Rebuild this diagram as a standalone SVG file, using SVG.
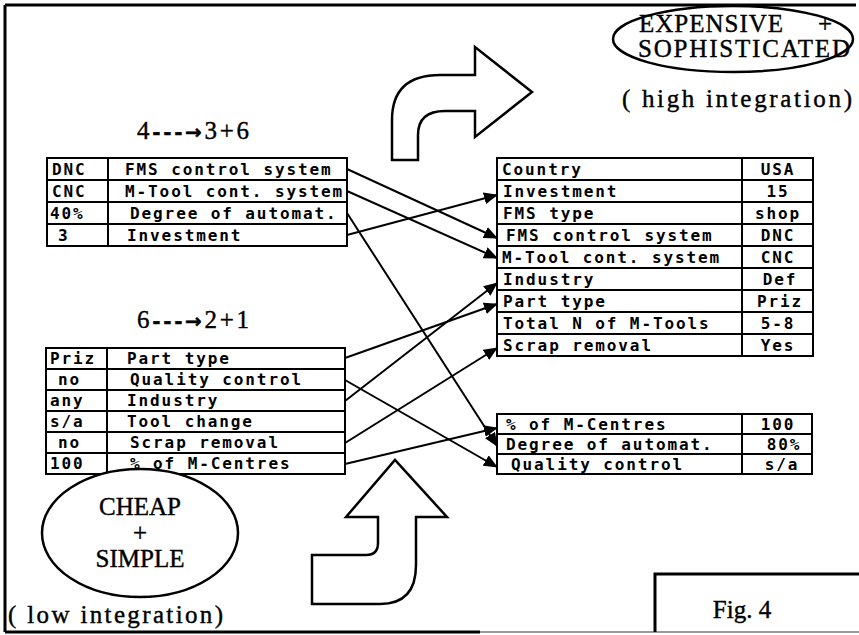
<svg xmlns="http://www.w3.org/2000/svg" width="859" height="635" viewBox="0 0 859 635">
<style>
.cell{fill:#fff;stroke:#000;stroke-width:2}
.dv{stroke:#000;stroke-width:2}
.tt{font-family:"DejaVu Sans Mono","Liberation Mono",monospace;font-weight:bold;font-size:16px;letter-spacing:1.9px;fill:#000}
.sf{font-family:"Liberation Serif",serif;font-size:25px;fill:#000;stroke:#000;stroke-width:0.4}
.shape{fill:#fff;stroke:#000;stroke-width:2.5}
.frame{stroke:#000;stroke-width:3;fill:none}
.conn{stroke:#000;stroke-width:2;fill:none;marker-end:url(#ah)}
</style>
<defs>
<marker id="ah" markerUnits="userSpaceOnUse" markerWidth="14" markerHeight="12" refX="13" refY="6" orient="auto">
<path d="M0,0 L14,6 L0,12 z" fill="#000"/>
</marker>
</defs>
<rect width="859" height="635" fill="#fff"/>
<g id="frame">
<path class="frame" d="M5,5 L856,5 M5,5 L5,632 M5,632 L480,632"/>
<path d="M480,632 L859,632" stroke="#999" stroke-width="2"/>
</g>
<g id="expensive">
<ellipse class="shape" cx="733" cy="39" rx="120" ry="33"/>
<text class="sf" x="639" y="32" letter-spacing="1">EXPENSIVE<tspan x="818">+</tspan></text>
<text class="sf" x="638" y="57" textLength="212" lengthAdjust="spacing">SOPHISTICATED</text>
<text class="sf" x="622" y="107" textLength="230" lengthAdjust="spacing">( high integration)</text>
</g>
<g id="arrow-top">
<path class="shape" d="M392,160 L392,120 Q392,75 440,75 L475,75 L475,47 L532,92 L475,137 L475,111 L445,111 Q418,111 418,135 L418,160 Z"/>
</g>
<g id="label-top">
<text class="sf" x="137" y="139" textLength="112" lengthAdjust="spacing">4<tspan font-family="DejaVu Sans" font-weight="bold" font-size="20">---→</tspan>3+6</text>
</g>
<g id="label-bottom">
<text class="sf" x="137" y="328" textLength="112" lengthAdjust="spacing">6<tspan font-family="DejaVu Sans" font-weight="bold" font-size="20">---→</tspan>2+1</text>
</g>
<g id="table1">
<g id="t1-r1"><rect class="cell" x="47" y="158" width="300" height="22"/><line class="dv" x1="108" y1="158" x2="108" y2="180"/><text class="tt" x="52" y="175">DNC</text><text class="tt" x="125" y="175">FMS control system</text></g>
<g id="t1-r2"><rect class="cell" x="47" y="180" width="300" height="22"/><line class="dv" x1="108" y1="180" x2="108" y2="202"/><text class="tt" x="52" y="197">CNC</text><text class="tt" x="125" y="197">M-Tool cont. system</text></g>
<g id="t1-r3"><rect class="cell" x="47" y="202" width="300" height="22"/><line class="dv" x1="108" y1="202" x2="108" y2="224"/><text class="tt" x="50" y="219">40%</text><text class="tt" x="130" y="219">Degree of automat.</text></g>
<g id="t1-r4"><rect class="cell" x="47" y="224" width="300" height="22"/><line class="dv" x1="108" y1="224" x2="108" y2="246"/><text class="tt" x="58" y="241">3</text><text class="tt" x="127" y="241">Investment</text></g>
</g>
<g id="table2">
<g id="t2-r1"><rect class="cell" x="46" y="348" width="299" height="21"/><line class="dv" x1="107" y1="348" x2="107" y2="369"/><text class="tt" x="50" y="364">Priz</text><text class="tt" x="127" y="364">Part type</text></g>
<g id="t2-r2"><rect class="cell" x="46" y="369" width="299" height="21"/><line class="dv" x1="107" y1="369" x2="107" y2="390"/><text class="tt" x="58" y="385">no</text><text class="tt" x="130" y="385">Quality control</text></g>
<g id="t2-r3"><rect class="cell" x="46" y="390" width="299" height="21"/><line class="dv" x1="107" y1="390" x2="107" y2="411"/><text class="tt" x="50" y="406">any</text><text class="tt" x="127" y="406">Industry</text></g>
<g id="t2-r4"><rect class="cell" x="46" y="411" width="299" height="21"/><line class="dv" x1="107" y1="411" x2="107" y2="432"/><text class="tt" x="50" y="427">s/a</text><text class="tt" x="127" y="427">Tool change</text></g>
<g id="t2-r5"><rect class="cell" x="46" y="432" width="299" height="21"/><line class="dv" x1="107" y1="432" x2="107" y2="453"/><text class="tt" x="58" y="448">no</text><text class="tt" x="130" y="448">Scrap removal</text></g>
<g id="t2-r6"><rect class="cell" x="46" y="453" width="299" height="21"/><line class="dv" x1="107" y1="453" x2="107" y2="474"/><text class="tt" x="50" y="469">100</text><text class="tt" x="130" y="469">% of M-Centres</text></g>
</g>
<g id="table3">
<g id="t3-r1"><rect class="cell" x="497" y="158" width="316" height="22"/><line class="dv" x1="742" y1="158" x2="742" y2="180"/><text class="tt" x="502" y="175">Country</text><text class="tt" x="778" y="175" text-anchor="middle">USA</text></g>
<g id="t3-r2"><rect class="cell" x="497" y="180" width="316" height="22"/><line class="dv" x1="742" y1="180" x2="742" y2="202"/><text class="tt" x="503" y="197">Investment</text><text class="tt" x="778" y="197" text-anchor="middle">15</text></g>
<g id="t3-r3"><rect class="cell" x="497" y="202" width="316" height="22"/><line class="dv" x1="742" y1="202" x2="742" y2="224"/><text class="tt" x="503" y="219">FMS type</text><text class="tt" x="778" y="219" text-anchor="middle">shop</text></g>
<g id="t3-r4"><rect class="cell" x="497" y="224" width="316" height="22"/><line class="dv" x1="742" y1="224" x2="742" y2="246"/><text class="tt" x="506" y="241">FMS control system</text><text class="tt" x="778" y="241" text-anchor="middle">DNC</text></g>
<g id="t3-r5"><rect class="cell" x="497" y="246" width="316" height="22"/><line class="dv" x1="742" y1="246" x2="742" y2="268"/><text class="tt" x="502" y="263">M-Tool cont. system</text><text class="tt" x="778" y="263" text-anchor="middle">CNC</text></g>
<g id="t3-r6"><rect class="cell" x="497" y="268" width="316" height="22"/><line class="dv" x1="742" y1="268" x2="742" y2="290"/><text class="tt" x="503" y="285">Industry</text><text class="tt" x="780" y="285" text-anchor="middle">Def</text></g>
<g id="t3-r7"><rect class="cell" x="497" y="290" width="316" height="22"/><line class="dv" x1="742" y1="290" x2="742" y2="312"/><text class="tt" x="503" y="307">Part type</text><text class="tt" x="780" y="307" text-anchor="middle">Priz</text></g>
<g id="t3-r8"><rect class="cell" x="497" y="312" width="316" height="22"/><line class="dv" x1="742" y1="312" x2="742" y2="334"/><text class="tt" x="503" y="329">Total N of M-Tools</text><text class="tt" x="778" y="329" text-anchor="middle">5-8</text></g>
<g id="t3-r9"><rect class="cell" x="497" y="334" width="316" height="22"/><line class="dv" x1="742" y1="334" x2="742" y2="356"/><text class="tt" x="503" y="351">Scrap removal</text><text class="tt" x="778" y="351" text-anchor="middle">Yes</text></g>
</g>
<g id="table4">
<g id="t4-r1"><rect class="cell" x="497" y="414" width="315" height="20"/><line class="dv" x1="742" y1="414" x2="742" y2="434"/><text class="tt" x="506" y="430">% of M-Centres</text><text class="tt" x="778" y="430" text-anchor="middle">100</text></g>
<g id="t4-r2"><rect class="cell" x="497" y="434" width="315" height="20"/><line class="dv" x1="742" y1="434" x2="742" y2="454"/><text class="tt" x="506" y="450">Degree of automat.</text><text class="tt" x="784" y="450" text-anchor="middle">80%</text></g>
<g id="t4-r3"><rect class="cell" x="497" y="454" width="315" height="20"/><line class="dv" x1="742" y1="454" x2="742" y2="474"/><text class="tt" x="511" y="470">Quality control</text><text class="tt" x="782" y="470" text-anchor="middle">s/a</text></g>
</g>
<g id="connectors">
<line class="conn" x1="347" y1="169" x2="497" y2="238"/>
<line class="conn" x1="347" y1="191" x2="497" y2="258"/>
<line class="conn" x1="347" y1="213" x2="497" y2="446"/>
<line class="conn" x1="347" y1="235" x2="497" y2="195"/>
<line class="conn" x1="345" y1="358" x2="497" y2="304"/>
<line class="conn" x1="345" y1="380" x2="497" y2="467"/>
<line class="conn" x1="345" y1="401" x2="497" y2="283"/>
<line class="conn" x1="345" y1="443" x2="497" y2="348"/>
<line class="conn" x1="345" y1="464" x2="497" y2="428"/>
</g>
<g id="cheap">
<ellipse class="shape" cx="140" cy="533" rx="98" ry="64"/>
<text class="sf" x="140" y="515" text-anchor="middle">CHEAP</text>
<text class="sf" x="140" y="541" text-anchor="middle">+</text>
<text class="sf" x="140" y="567" text-anchor="middle">SIMPLE</text>
<text class="sf" x="8" y="623" textLength="215" lengthAdjust="spacing">( low integration)</text>
</g>
<g id="arrow-bottom">
<path class="shape" d="M312,555 L366,555 Q378,555 378,543 L378,517 L346,517 L395,460 L447,517 L416,517 L416,565 Q416,604 380,604 L312,604 Z"/>
</g>
<g id="fig">
<path class="frame" d="M655,632 L655,574 L859,574"/>
<text class="sf" x="742" y="618" text-anchor="middle">Fig. 4</text>
</g>
</svg>
